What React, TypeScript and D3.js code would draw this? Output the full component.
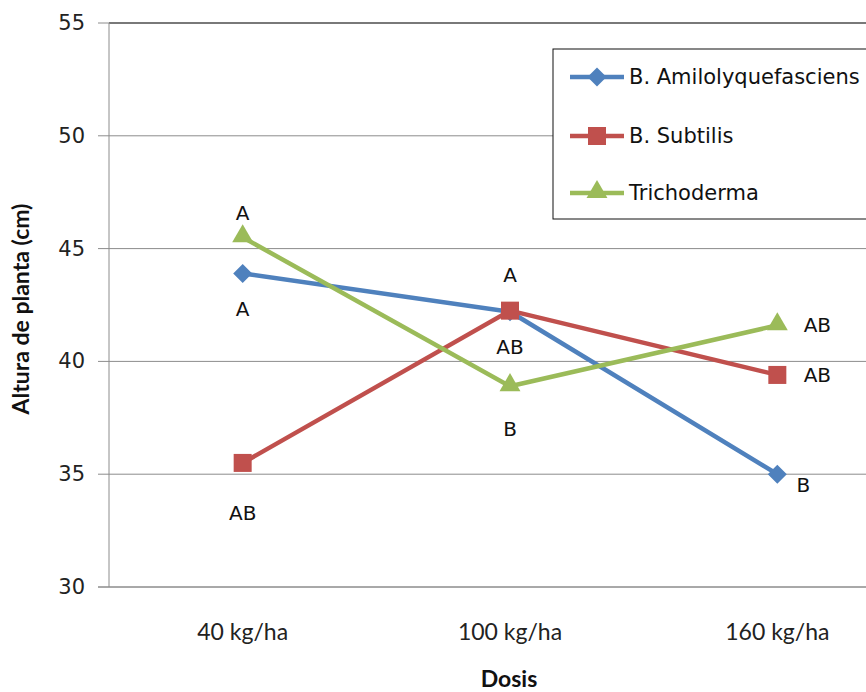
import React from "react";
import * as d3 from "d3";

const categories = ["40 kg/ha", "100 kg/ha", "160 kg/ha"];
const seriesNames = ["B. Amilolyquefasciens", "B. Subtilis", "Trichoderma"];
const amiloValues = [43.9, 42.2, 35.0];
const subtilisValues = [35.5, 42.25, 39.4];
const trichoValues = [45.5, 38.9, 41.6];
const yTicks = [30, 35, 40, 45, 50, 55];
const colors = ["#4F81BD", "#C0504D", "#9BBB59"];
const markers = ["diamond", "square", "triangle"];

// significance letters: [seriesIndex, categoryIndex, text, position]
const letterLabels: [number, number, string, string][] = [
  [2, 0, "A", "above"],
  [0, 0, "A", "below"],
  [1, 0, "AB", "below"],
  [1, 1, "A", "above"],
  [1, 1, "AB", "below"],
  [2, 1, "B", "below"],
  [2, 2, "AB", "right"],
  [1, 2, "AB", "right"],
  [0, 2, "B", "rightbelow"],
];

const W = 866;
const H = 692;
const plotLeft = 109;
const plotRight = 911;
const plotTop = 23;
const plotBottom = 587;

const labelFont = "'DejaVu Sans', Verdana, sans-serif";
const titleFont = "Lato, 'Open Sans', sans-serif";

function Marker({ type, x, y, color }: { type: string; x: number; y: number; color: string }) {
  if (type === "diamond") {
    const r = 9.5;
    return (
      <path
        d={`M${x},${y - r}L${x + r},${y}L${x},${y + r}L${x - r},${y}Z`}
        fill={color}
      />
    );
  }
  if (type === "square") {
    return <rect x={x - 9} y={y - 9} width={18} height={18} fill={color} />;
  }
  const t = d3.symbol(d3.symbolTriangle, 190)();
  return <path d={t || ""} transform={`translate(${x},${y - 1})`} fill={color} />;
}

export default function App() {
  const allSeries = [amiloValues, subtilisValues, trichoValues];
  const x = d3.scalePoint<string>().domain(categories).range([plotLeft, plotRight]).padding(0.5);
  const y = d3.scaleLinear().domain([30, 55]).range([plotBottom, plotTop]);
  const line = d3
    .line<number>()
    .x((_, i) => x(categories[i]) as number)
    .y((v) => y(v));

  const legendX = 553;
  const legendY = 49;
  const legendRows = [77, 136, 193];

  return (
    <svg
      width={W}
      height={H}
      style={{ position: "absolute", left: 0, top: 0, background: "#fff" }}
    >
      <rect x={0} y={0} width={W} height={H} fill="#fff" />
      {/* gridlines */}
      {yTicks.map((t) => (
        <line
          key={"g" + t}
          x1={plotLeft}
          x2={plotRight}
          y1={y(t)}
          y2={y(t)}
          stroke={t === 55 ? "#4d4d4d" : "#8c8c8c"}
          strokeWidth={t === 55 ? 1.5 : 1}
        />
      ))}
      {/* y axis */}
      <line x1={plotLeft} x2={plotLeft} y1={plotTop} y2={plotBottom} stroke="#8c8c8c" />
      {yTicks.map((t) => (
        <g key={"t" + t}>
          <line x1={plotLeft - 11} x2={plotLeft} y1={y(t)} y2={y(t)} stroke="#8c8c8c" />
          <text
            x={85}
            y={y(t)}
            textAnchor="end"
            dominantBaseline="central"
            fontFamily={labelFont}
            fontSize={21}
            fill="#222"
          >
            {t}
          </text>
        </g>
      ))}
      {/* x axis */}
      <line x1={plotLeft - 11} x2={plotRight} y1={plotBottom} y2={plotBottom} stroke="#8c8c8c" />
      {categories.map((c) => (
        <text
          key={c}
          x={x(c)}
          y={631}
          textAnchor="middle"
          dominantBaseline="central"
          fontFamily={titleFont}
          fontSize={23}
          fill="#222"
        >
          {c}
        </text>
      ))}
      {/* axis titles */}
      <text
        x={509}
        y={678}
        textAnchor="middle"
        dominantBaseline="central"
        fontFamily={titleFont}
        fontWeight="bold"
        fontSize={23}
        fill="#111"
      >
        Dosis
      </text>
      <text
        transform={`translate(20,${(plotTop + plotBottom) / 2 + 4}) rotate(-90)`}
        textAnchor="middle"
        dominantBaseline="central"
        fontFamily={titleFont}
        fontWeight="bold"
        fontSize={23}
        fill="#111"
      >
        Altura de planta (cm)
      </text>
      {/* series */}
      {allSeries.map((vals, si) => (
        <g key={"s" + si}>
          <path d={line(vals) || ""} fill="none" stroke={colors[si]} strokeWidth={4.5} strokeLinejoin="round" />
          {vals.map((v, i) => (
            <Marker key={i} type={markers[si]} x={x(categories[i]) as number} y={y(v)} color={colors[si]} />
          ))}
        </g>
      ))}
      {/* letters */}
      {letterLabels.map(([si, ci, txt, pos], k) => {
        const px = x(categories[ci]) as number;
        const py = y(allSeries[si][ci]);
        let dx = 0;
        let dy = 0;
        if (pos === "above") dy = -24;
        if (pos === "below") dy = si === 1 && ci === 0 ? 50 : si === 2 ? 43 : 36;
        if (pos === "right") {
          dx = 40;
          dy = 0;
        }
        if (pos === "rightbelow") {
          dx = 26;
          dy = 11;
        }
        if (pos === "above" && si === 1) dy = -36;
        return (
          <text
            key={"l" + k}
            x={px + dx}
            y={py + dy}
            textAnchor="middle"
            dominantBaseline="central"
            fontFamily={labelFont}
            fontSize={20}
            fill="#111"
          >
            {txt}
          </text>
        );
      })}
      {/* legend */}
      <rect x={legendX} y={legendY} width={400} height={170} fill="#fff" stroke="#111" strokeWidth={1} />
      {seriesNames.map((n, i) => (
        <g key={n}>
          <line x1={570} x2={624} y1={legendRows[i]} y2={legendRows[i]} stroke={colors[i]} strokeWidth={4.5} />
          <Marker type={markers[i]} x={597} y={legendRows[i]} color={colors[i]} />
          <text
            x={629}
            y={legendRows[i]}
            dominantBaseline="central"
            fontFamily={labelFont}
            fontSize={21}
            fill="#111"
          >
            {n}
          </text>
        </g>
      ))}
    </svg>
  );
}
